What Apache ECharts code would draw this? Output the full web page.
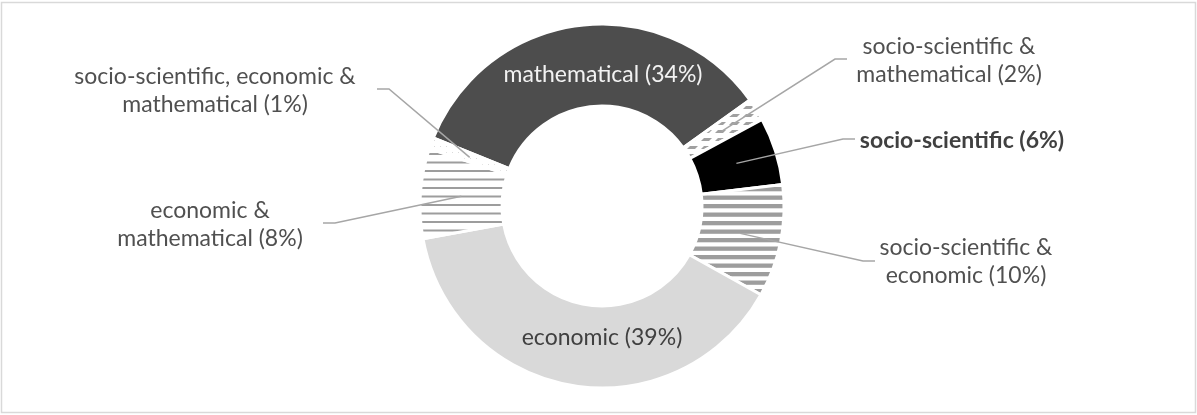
<!DOCTYPE html>
<html>
<head>
<meta charset="utf-8">
<script src="https://cdn.jsdelivr.net/npm/echarts@6/dist/echarts.min.js"></script>
<style>
  html, body { margin: 0; padding: 0; background: #fff; }
  #chart { width: 1197px; height: 415px; }
</style>
</head>
<body>
<div id="chart"></div>
<script>
// Share of tasks by context type (percent), clockwise from the upper left
const categories = [
  'mathematical',
  'socio-scientific & mathematical',
  'socio-scientific',
  'socio-scientific & economic',
  'economic',
  'economic & mathematical',
  'socio-scientific, economic & mathematical'
];
const shares = [34, 2, 6, 10, 39, 8, 1];

// Ring geometry
const CENTER = [602, 206];
const R_IN = 100;
const R_OUT = 182;
const START_ANGLE = 158;

// Label placement: text centre, and where the leader line meets the text
const labelPlacement = [
  { x: 603, y: 75 },
  { x: 949, y: 61, end: [847, 59] },
  { x: 962, y: 141, end: [855, 139] },
  { x: 966, y: 262, end: [875, 261] },
  { x: 602, y: 338 },
  { x: 210, y: 225, end: [323, 223] },
  { x: 215, y: 91, end: [377, 89] }
];

function tile(w, h, draw) {
  const c = document.createElement('canvas');
  c.width = w; c.height = h;
  const g = c.getContext('2d');
  g.fillStyle = '#ffffff';
  g.fillRect(0, 0, w, h);
  draw(g);
  return { image: c, repeat: 'repeat' };
}

// Wide horizontal stripes
const wideStripes = tile(8, 17, g => {
  g.fillStyle = '#9d9d9d';
  g.fillRect(0, 0, 8, 4.3);
  g.fillRect(0, 8.5, 8, 4.3);
});
// Thin horizontal lines
const thinLines = tile(8, 17, g => {
  g.fillStyle = '#9d9d9d';
  g.fillRect(0, 0, 8, 2);
  g.fillRect(0, 8.5, 8, 2);
});
// Dashed upward diagonal
const diagDashes = tile(14, 8, g => {
  g.fillStyle = '#a0a0a0';
  g.beginPath();
  g.moveTo(1, 5); g.lineTo(4, 2); g.lineTo(12, 2); g.lineTo(9, 5);
  g.closePath();
  g.fill();
});
// Sparse dots
const lightDots = tile(6, 6, g => {
  g.fillStyle = '#dadada';
  g.fillRect(2, 2, 1, 1);
});

const fills = ['#4d4d4d', diagDashes, '#000000', wideStripes, '#d9d9d9', thinLines, lightDots];
const insideLabel = [true, false, false, false, true, false, false];
const labelColors = ['#f2f2f2', '#505050', '#404040', '#505050', '#404040', '#505050', '#505050'];
const labelWeights = ['normal', 'normal', 'bold', 'normal', 'normal', 'normal', 'normal'];

const total = shares.reduce((a, b) => a + b, 0);

// Point in the middle of the ring at the slice's mid angle
function sliceAnchor(i) {
  let before = 0;
  for (let k = 0; k < i; k++) before += shares[k];
  const mid = START_ANGLE - 360 * (before + shares[i] / 2) / total;
  const rad = mid * Math.PI / 180;
  const r = (R_IN + R_OUT) / 2;
  return [CENTER[0] + r * Math.cos(rad), CENTER[1] - r * Math.sin(rad)];
}

const ringBase = {
  type: 'pie',
  center: CENTER,
  radius: [R_IN, R_OUT],
  startAngle: START_ANGLE,
  clockwise: true,
  avoidLabelOverlap: false,
  silent: true
};

// Filled ring
const ringSeries = Object.assign({}, ringBase, {
  z: 2,
  data: categories.map((name, i) => ({
    name: name,
    value: shares[i],
    itemStyle: { color: fills[i] }
  })),
  itemStyle: { borderColor: '#ffffff', borderWidth: 3 },
  label: { show: false },
  labelLine: { show: false }
});

// Same ring, unfilled, carrying the labels and leader lines on top
const labelSeries = Object.assign({}, ringBase, {
  z: 3,
  data: categories.map((name, i) => ({
    name: name,
    value: shares[i],
    label: {
      position: insideLabel[i] ? 'inside' : 'outside',
      color: labelColors[i],
      fontWeight: labelWeights[i]
    },
    labelLine: { show: !insideLabel[i] }
  })),
  itemStyle: { color: 'rgba(0,0,0,0)', borderWidth: 0 },
  label: {
    fontFamily: 'Lato',
    fontSize: 23,
    lineHeight: 28,
    formatter: p => (p.name + ' (' + p.value + '%)').replace('& ', '&\n')
  },
  labelLine: {
    showAbove: true,
    lineStyle: { color: '#a6a6a6', width: 1.5 }
  },
  labelLayout: function (p) {
    const s = labelPlacement[p.dataIndex];
    const out = { x: s.x, y: s.y, align: 'center', verticalAlign: 'middle' };
    if (s.end) {
      const a = sliceAnchor(p.dataIndex);
      const side = s.end[0] < a[0] ? 1 : -1;
      out.labelLinePoints = [a, [s.end[0] + side * 12, s.end[1]], s.end];
    }
    return out;
  }
});

const chart = echarts.init(document.getElementById('chart'), null, { renderer: 'canvas' });
chart.setOption({
  animation: false,
  backgroundColor: '#ffffff',
  graphic: [{
    type: 'rect',
    shape: { x: 1.5, y: 2.5, width: 1194, height: 410 },
    style: { fill: 'none', stroke: '#d9d9d9', lineWidth: 1.5 },
    silent: true
  }],
  series: [ringSeries, labelSeries]
});
</script>
</body>
</html>
